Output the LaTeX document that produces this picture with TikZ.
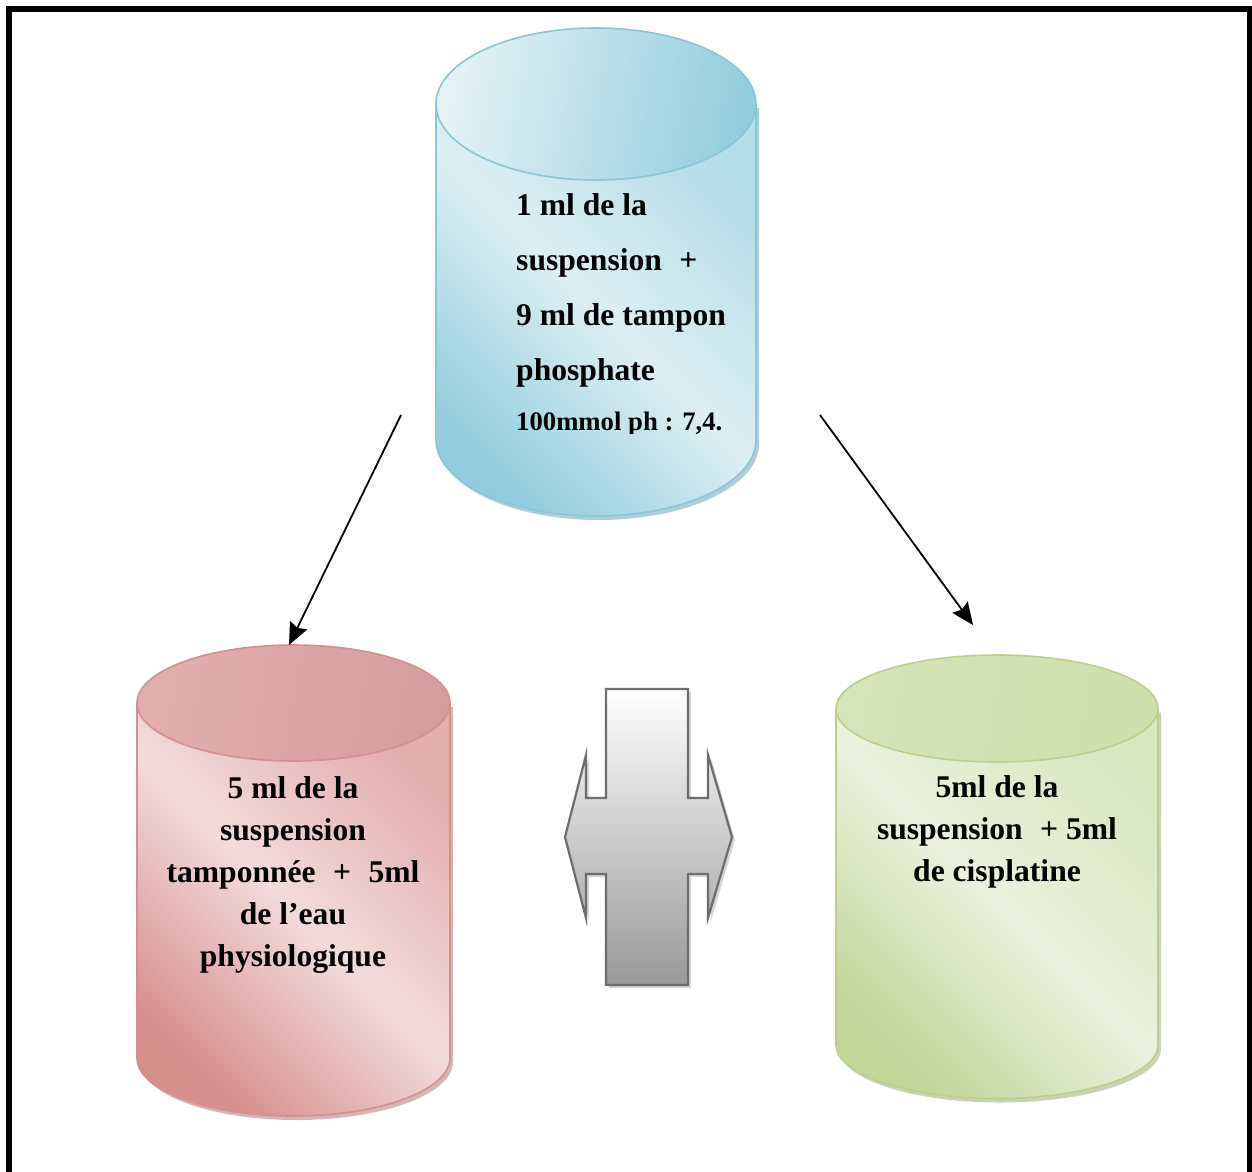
\documentclass[tikz,border=0pt]{standalone}
\usepackage{fontspec}
\setmainfont{Liberation Serif}
\usetikzlibrary{arrows.meta}

\definecolor{bluedark}{HTML}{93CDDD}
\definecolor{bluelight}{HTML}{DDEFF4}
\definecolor{bluemid}{HTML}{B5DDE8}
\definecolor{blueline}{HTML}{8CC5D5}
\definecolor{blueshadow}{HTML}{79AEBE}
\definecolor{reddark}{HTML}{D78F8E}
\definecolor{redlight}{HTML}{F2DCDB}
\definecolor{redmid}{HTML}{E3AEAE}
\definecolor{redtop}{HTML}{E0A5A5}
\definecolor{redline}{HTML}{D48F8F}
\definecolor{redshadow}{HTML}{B98585}
\definecolor{greendark}{HTML}{C2D699}
\definecolor{greenlight}{HTML}{EBF1DE}
\definecolor{greenmid}{HTML}{D9E6C0}
\definecolor{greentop}{HTML}{CEDFAD}
\definecolor{greenline}{HTML}{BBD08E}
\definecolor{greenshadow}{HTML}{A5B585}
\definecolor{plusline}{HTML}{6D6D6D}

\tikzset{
  blue body/.style={left color=bluedark, right color=bluemid, middle color=bluelight, shading angle=135},
  blue top/.style={left color=bluelight!80!white, right color=bluedark, shading angle=80},
  red body/.style={left color=reddark, right color=redmid, middle color=redlight, shading angle=135},
  red top/.style={left color=redtop!90!white, right color=redtop!95!black, shading angle=80},
  green body/.style={left color=greendark, right color=greenmid, middle color=greenlight, shading angle=135},
  green top/.style={left color=greentop!85!white, right color=greentop, shading angle=80},
  canlabel/.style={inner sep=0pt, font=\fontsize{31.6}{42}\selectfont\bfseries},
  smalllabel/.style={inner sep=0pt, font=\fontsize{26.7}{32}\selectfont\bfseries},
  connector/.style={draw=black, line width=1.8pt, -{Stealth[length=22pt,width=19pt,inset=3pt]}},
  frameline/.style={draw=black, line width=6pt}
}

% #1 centre x, #2 top centre y, #3 bottom centre y, #4 x radius, #5 y radius, #6 colour family
\newcommand\drawcan[6]{%
  \pgfmathsetmacro\cL{#1-#4}%
  \pgfmathsetmacro\cR{#1+#4}%
  \pgfmathsetmacro\kx{0.5523*#4}%
  \pgfmathsetmacro\ky{0.5523*#5}%
  \pgfmathsetmacro\bB{#3+#5}%
  \fill[#6shadow, opacity=.6, shift={(3,4)}] (\cL,#2) -- (\cL,#3)
     .. controls (\cL,#3+\ky) and (#1-\kx,\bB) .. (#1,\bB)
     .. controls (#1+\kx,\bB) and (\cR,#3+\ky) .. (\cR,#3) -- (\cR,#2) -- cycle;
  \shade[#6 body] (\cL,#2) -- (\cL,#3)
     .. controls (\cL,#3+\ky) and (#1-\kx,\bB) .. (#1,\bB)
     .. controls (#1+\kx,\bB) and (\cR,#3+\ky) .. (\cR,#3) -- (\cR,#2) -- cycle;
  \draw[#6line, line width=1.6pt] (\cL,#2) -- (\cL,#3)
     .. controls (\cL,#3+\ky) and (#1-\kx,\bB) .. (#1,\bB)
     .. controls (#1+\kx,\bB) and (\cR,#3+\ky) .. (\cR,#3) -- (\cR,#2);
  \shade[#6 top] (#1,#2) ellipse [x radius=#4, y radius=#5];
  \draw[#6line, line width=1.6pt] (#1,#2) ellipse [x radius=#4, y radius=#5];
}

\begin{document}
\begin{tikzpicture}[x=1pt, y=-1pt]
\useasboundingbox (0,0) rectangle (1252,1171);
\clip (0,0) rectangle (1252,1171);
\fill[white] (0,0) rectangle (1252,1171);

% open frame: left, top and right sides
\draw[frameline] (9,1180) -- (9,9) -- (1250,9) -- (1250,1180);

% the three containers
\drawcan{596}{104}{440}{160}{76}{blue}
\drawcan{293.5}{703}{1058}{156.5}{58}{red}
\drawcan{997}{708.5}{1045}{161}{53.5}{green}

% stock tube label
\node[canlabel, anchor=base west] (s1) at (516,215) {1 ml de la};
\node[canlabel, anchor=base west] (s2) at (516,270) {suspension\hspace{0.55em}+};
\node[canlabel, anchor=base west] (s3) at (516,325) {9 ml de tampon};
\node[canlabel, anchor=base west] (s4) at (516,380) {phosphate};
\begin{scope}
  \clip (500,395) rectangle (760,433);
  \node[smalllabel, anchor=base west] (s5) at (516,430) {100mmol ph : 7,4.};
\end{scope}

% control tube label
\node[canlabel, anchor=base] (c1) at (293,798) {5 ml de la};
\node[canlabel, anchor=base] (c2) at (293,840) {suspension};
\node[canlabel, anchor=base] (c3) at (293,882) {tamponnée\hspace{0.55em}+\hspace{0.55em}5ml};
\node[canlabel, anchor=base] (c4) at (293,924) {de l’eau};
\node[canlabel, anchor=base] (c5) at (293,966) {physiologique};

% treated tube label
\node[canlabel, anchor=base] (g1) at (997,797) {5ml de la};
\node[canlabel, anchor=base] (g2) at (997,839) {suspension\hspace{0.55em}+ 5ml};
\node[canlabel, anchor=base] (g3) at (997,881) {de cisplatine};

% dilution arrows
\coordinate (fromL) at (401,415);
\coordinate (toL) at (289,645);
\coordinate (fromR) at (820,415);
\coordinate (toR) at (973,625);
\draw[connector] (fromL) -- (toL);
\draw[connector] (fromR) -- (toR);

% comparison symbol between the two tubes
\fill[gray!45, opacity=.7, shift={(3,3)}]
  (606,689) -- (688,689) -- (688,798) -- (708,798) -- (708,755) -- (732,837)
  -- (708,918) -- (708,874) -- (688,874) -- (688,985) -- (606,985) -- (606,874)
  -- (586,874) -- (586,918) -- (565,837) -- (586,755) -- (586,798) -- (606,798) -- cycle;
\shade[top color=white, bottom color=black!40, draw=plusline, line width=2.2pt]
  (606,689) -- (688,689) -- (688,798) -- (708,798) -- (708,755) -- (732,837)
  -- (708,918) -- (708,874) -- (688,874) -- (688,985) -- (606,985) -- (606,874)
  -- (586,874) -- (586,918) -- (565,837) -- (586,755) -- (586,798) -- (606,798) -- cycle;
\end{tikzpicture}
\end{document}
